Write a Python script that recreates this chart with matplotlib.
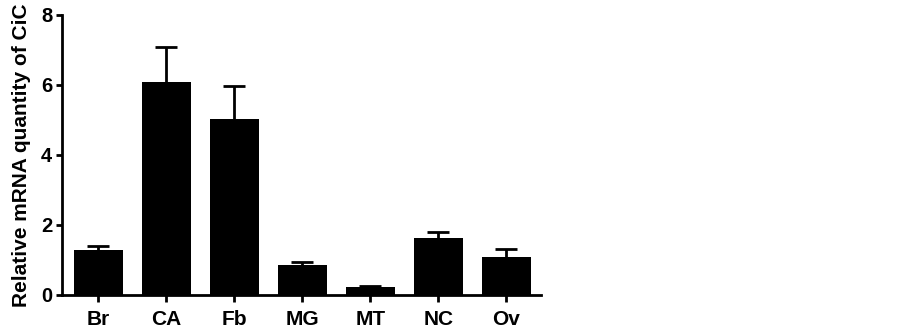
import matplotlib
matplotlib.use("Agg")
import matplotlib.pyplot as plt
import numpy as np

categories = ["Br", "CA", "Fb", "MG", "MT", "NC", "Ov"]
means = [1.28, 6.08, 5.02, 0.86, 0.24, 1.62, 1.09]
errors = [0.11, 1.01, 0.94, 0.08, 0.03, 0.17, 0.22]
yticks = [0, 2, 4, 6, 8]

plt.rcParams['font.family'] = ['Liberation Sans', 'DejaVu Sans']
plt.rcParams['font.weight'] = 'bold'

fig = plt.figure(figsize=(9.03, 3.31), dpi=100)
ax = fig.add_axes([62/903, 1-295/331, (541-62)/903, (295-15)/331])

x = np.arange(len(categories))
# symmetric SEM bars; the lower half is hidden behind the bar
ax.errorbar(x, means, yerr=errors, fmt='none',
            ecolor='black', elinewidth=2, capsize=8, capthick=2, zorder=1)
ax.bar(x, means, width=0.72, color='black', linewidth=0, zorder=3)

ax.set_xlim(-0.53, 6.51)
ax.set_ylim(0, 8)
ax.set_yticks(yticks)
ax.set_xticks(x)
ax.set_xticklabels(categories, fontsize=15, fontweight='bold')
ax.set_yticklabels([str(t) for t in yticks], fontsize=14.5, fontweight='bold')
ax.set_ylabel("Relative mRNA quantity of CiC", fontsize=15, fontweight='bold', labelpad=7)

for s in ['top', 'right']:
    ax.spines[s].set_visible(False)
for s in ['left', 'bottom']:
    ax.spines[s].set_linewidth(2)
    ax.spines[s].set_zorder(4)
ax.tick_params(axis='y', length=4, width=2, pad=3)
ax.tick_params(axis='x', length=5, width=2, pad=6)

fig.savefig("out.png", dpi=100)
